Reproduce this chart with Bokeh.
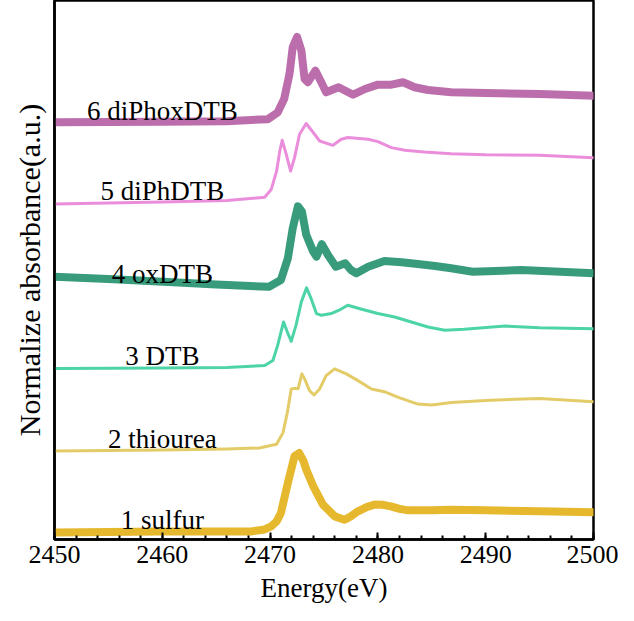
from bokeh.plotting import figure
from bokeh.models import Range1d, SingleIntervalTicker
from bokeh.core.properties import value
from bokeh.embed import file_html
from bokeh.resources import INLINE

# ---- data (y already includes vertical stacking offset) ----
names = ["1 sulfur", "2 thiourea", "3 DTB", "4 oxDTB", "5 diPhDTB", "6 diPhoxDTB"]
colors = ["#E6B82E", "#E3CC68", "#4CD4A8", "#389C7C", "#EA8EDC", "#BC6EAC"]
widths = [8, 3, 3, 8, 3, 8]

sulfur_e = [2450, 2455, 2460, 2465, 2468.2, 2469.5, 2470.1, 2470.6, 2471.0, 2471.65, 2472.27, 2472.7,
            2473.1, 2473.35, 2474.0, 2474.9, 2476.0, 2476.9, 2477.5, 2478.15, 2479.0, 2479.7, 2480.4,
            2481.2, 2482.0, 2482.8, 2485.0, 2486.8, 2490, 2495, 2500]
sulfur_y = [0.07, 0.075, 0.08, 0.08, 0.08, 0.10, 0.13, 0.18, 0.263, 0.563, 0.83, 0.86,
            0.78, 0.697, 0.53, 0.347, 0.23, 0.197, 0.23, 0.28, 0.325, 0.347, 0.345,
            0.33, 0.305, 0.29, 0.29, 0.297, 0.29, 0.28, 0.27]

thiourea_e = [2450, 2460, 2466, 2469, 2470.6, 2471.2, 2471.6, 2471.96, 2472.3, 2472.6, 2472.95,
              2473.2, 2473.66, 2474.07, 2474.6, 2475.2, 2475.98, 2477.07, 2478.15, 2479.4,
              2480.6, 2481.9, 2483.7, 2485.0, 2486.8, 2490, 2495, 2500]
thiourea_y = [0.88, 0.89, 0.90, 0.91, 0.947, 1.063, 1.263, 1.497, 1.503, 1.50, 1.647,
              1.597, 1.48, 1.437, 1.497, 1.63, 1.697, 1.647, 1.58, 1.497,
              1.47, 1.413, 1.347, 1.337, 1.363, 1.383, 1.403, 1.37]

dtb_e = [2450, 2460, 2466, 2469.5, 2470.26, 2470.7, 2471.25, 2471.6, 2471.96, 2472.4, 2472.9,
         2473.38, 2473.8, 2474.3, 2474.75, 2475.67, 2476.4, 2477.2, 2478.5, 2480.0, 2481.55,
         2483.1, 2484.65, 2486.2, 2488, 2491.8, 2495, 2500]
dtb_y = [1.70, 1.705, 1.71, 1.73, 1.78, 1.93, 2.163, 2.063, 1.97, 2.13, 2.363,
         2.503, 2.397, 2.247, 2.23, 2.247, 2.28, 2.33, 2.29, 2.247, 2.213,
         2.163, 2.113, 2.08, 2.09, 2.123, 2.105, 2.097]

oxdtb_e = [2450, 2455, 2460.1, 2465, 2469.9, 2471.0, 2471.65, 2472.1, 2472.58, 2472.95, 2473.35,
           2474.0, 2474.3, 2474.8, 2475.37, 2476.1, 2476.97, 2477.5, 2478.0, 2479.1, 2480.6,
           2482.2, 2483.7, 2485.3, 2486.8, 2488.8, 2493.3, 2500]
oxdtb_y = [2.613, 2.59, 2.563, 2.535, 2.513, 2.58, 2.797, 3.097, 3.313, 3.263, 3.03,
           2.863, 2.813, 2.937, 2.83, 2.713, 2.747, 2.68, 2.647, 2.713, 2.77,
           2.757, 2.74, 2.72, 2.697, 2.663, 2.68, 2.647]

diph_e = [2450, 2460, 2466, 2469.5, 2470.1, 2470.6, 2470.9, 2471.12, 2471.5, 2471.9, 2472.27,
          2472.73, 2473.35, 2474.0, 2474.6, 2475.83, 2476.6, 2477.2, 2479.1, 2480.0, 2481.25,
          2482.5, 2484.3, 2486.8, 2490, 2495, 2500]
diph_y = [3.337, 3.355, 3.37, 3.403, 3.48, 3.663, 3.863, 3.97, 3.83, 3.663, 3.797,
          4.03, 4.137, 4.047, 3.963, 3.92, 3.98, 3.997, 3.98, 3.957, 3.897,
          3.87, 3.853, 3.837, 3.825, 3.82, 3.797]

diphox_e = [2450, 2460, 2466, 2469.8, 2470.7, 2471.3, 2471.8, 2472.1, 2472.5, 2472.9, 2473.2,
            2473.5, 2474.2, 2474.75, 2475.2, 2476.35, 2477.7, 2478.8, 2480.0, 2481.25, 2482.33,
            2483.4, 2484.65, 2486.8, 2490, 2495, 2500]
diphox_y = [4.15, 4.155, 4.16, 4.18, 4.247, 4.38, 4.63, 4.897, 4.997, 4.863, 4.58,
            4.547, 4.663, 4.547, 4.447, 4.497, 4.423, 4.48, 4.523, 4.523, 4.547,
            4.497, 4.47, 4.447, 4.44, 4.43, 4.413]

label_x = [2460, 2460, 2460, 2460, 2460, 2460]
label_y = [0.19, 1.003, 1.823, 2.637, 3.47, 4.263]

xs = [sulfur_e, thiourea_e, dtb_e, oxdtb_e, diph_e, diphox_e]
ys = [sulfur_y, thiourea_y, dtb_y, oxdtb_y, diph_y, diphox_y]

FONT = "Liberation Serif"

p = figure(width=618, height=605, output_backend="svg", toolbar_location=None,
           x_range=Range1d(2450, 2500), y_range=Range1d(0, 5.36),
           min_border_left=54, min_border_right=25, min_border_top=0, min_border_bottom=0)
p.background_fill_color = "white"
p.border_fill_color = "white"
p.grid.visible = False
p.outline_line_color = "black"
p.outline_line_width = 2.5

for x, y, c, w in zip(xs, ys, colors, widths):
    p.line(x, y, line_color=c, line_width=w, line_join="round", line_cap="round")

p.text(x=label_x, y=label_y, text=names, text_font=value(FONT), text_font_size="27px",
       text_align="center", text_baseline="alphabetic", text_color="black")

# x axis
p.xaxis.ticker = SingleIntervalTicker(interval=10, num_minor_ticks=5)
p.xaxis.axis_line_color = "black"
p.xaxis.axis_line_width = 2.5
p.xaxis.major_tick_in = 7
p.xaxis.major_tick_out = 0
p.xaxis.minor_tick_in = 4
p.xaxis.minor_tick_out = 0
p.xaxis.major_tick_line_width = 2
p.xaxis.minor_tick_line_width = 2
p.xaxis.major_tick_line_color = "black"
p.xaxis.minor_tick_line_color = "black"
p.xaxis.major_label_text_font = FONT
p.xaxis.major_label_text_font_size = "26px"
p.xaxis.major_label_text_color = "black"
p.xaxis.major_label_standoff = 6
p.xaxis.axis_label = "Energy(eV)"
p.xaxis.axis_label_text_font = FONT
p.xaxis.axis_label_text_font_size = "27px"
p.xaxis.axis_label_text_font_style = "normal"
p.xaxis.axis_label_text_color = "black"
p.xaxis.axis_label_standoff = 7

# y axis: title only
p.yaxis.ticker = []
p.yaxis.major_tick_in = 0
p.yaxis.major_tick_out = 0
p.yaxis.minor_tick_in = 0
p.yaxis.minor_tick_out = 0
p.yaxis.axis_line_color = "black"
p.yaxis.axis_line_width = 2.5
p.yaxis.major_label_standoff = 0
p.yaxis.axis_label = "Normalize absorbance(a.u.)"
p.yaxis.axis_label_text_font = FONT
p.yaxis.axis_label_text_font_size = "30px"
p.yaxis.axis_label_text_font_style = "normal"
p.yaxis.axis_label_text_color = "black"
p.yaxis.axis_label_standoff = 9

open("out.html", "w").write(file_html(p, INLINE))
